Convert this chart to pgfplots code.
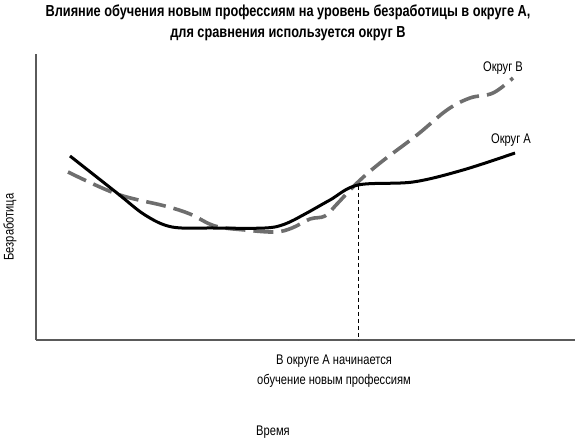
\documentclass[border=0pt]{standalone}
\usepackage{fontspec}
\setmainfont[FakeStretch=0.8]{Liberation Sans}
\usepackage{pgfplots}
\pgfplotsset{compat=1.18}
\definecolor{lineB}{HTML}{6E6E6E}
\definecolor{axisgray}{HTML}{5A5A5A}
\newcommand{\lbl}{\fontsize{14}{16}\selectfont}
\begin{document}
\begin{tikzpicture}
\path[use as bounding box] (0,0) rectangle (576bp,438bp);
\begin{axis}[
  at={(36bp,98bp)}, anchor=south west,
  scale only axis, width=539bp, height=286bp,
  xmin=36, xmax=575, ymin=0, ymax=286,
  axis lines*=left,
  axis line style={axisgray, line width=1.2bp},
  xtick=\empty, ytick=\empty,
  clip=false,
]
% district B (dashed gray)
\addplot[lineB, line width=3.6bp, dash pattern=on 20bp off 8bp, smooth, tension=0.6]
  coordinates {(68,168) (117,146) (165,134) (190,126) (215,114) (245,110)
    (275,108) (292,112) (310,121) (325,124) (337,136) (357,157) (380,177)
    (417,205) (447,230) (470,242) (493,247) (513,262)};
% district A (solid black)
\addplot[black, line width=3bp, smooth, tension=0.55]
  coordinates {(70,184) (117,147) (145,125) (172,113) (213,112)
    (265,112) (285,116) (305,126) (330,140) (358,155) (413,158) (463,170) (515,187)};
% start of training
\addplot[black, line width=0.9bp, dash pattern=on 4bp off 3bp] coordinates {(358,154) (358,0)};

\node[font=\lbl] at (axis cs:503,272) {Округ В};
\node[font=\lbl] at (axis cs:511,200) {Округ А};
\node[font=\lbl, align=center] at (axis cs:334,-31) {В округе А начинается\\[4bp]обучение новым профессиям};
\node[font=\lbl] at (axis cs:273,-92) {Время};
\node[font=\lbl, rotate=90] at (axis cs:10,113) {Безработица};
\node[align=center, font=\fontsize{16}{21}\selectfont\bfseries] at (axis cs:288,317)
  {Влияние обучения новым профессиям на уровень безработицы в округе А,\\для сравнения используется округ В};
\end{axis}
\end{tikzpicture}
\end{document}
